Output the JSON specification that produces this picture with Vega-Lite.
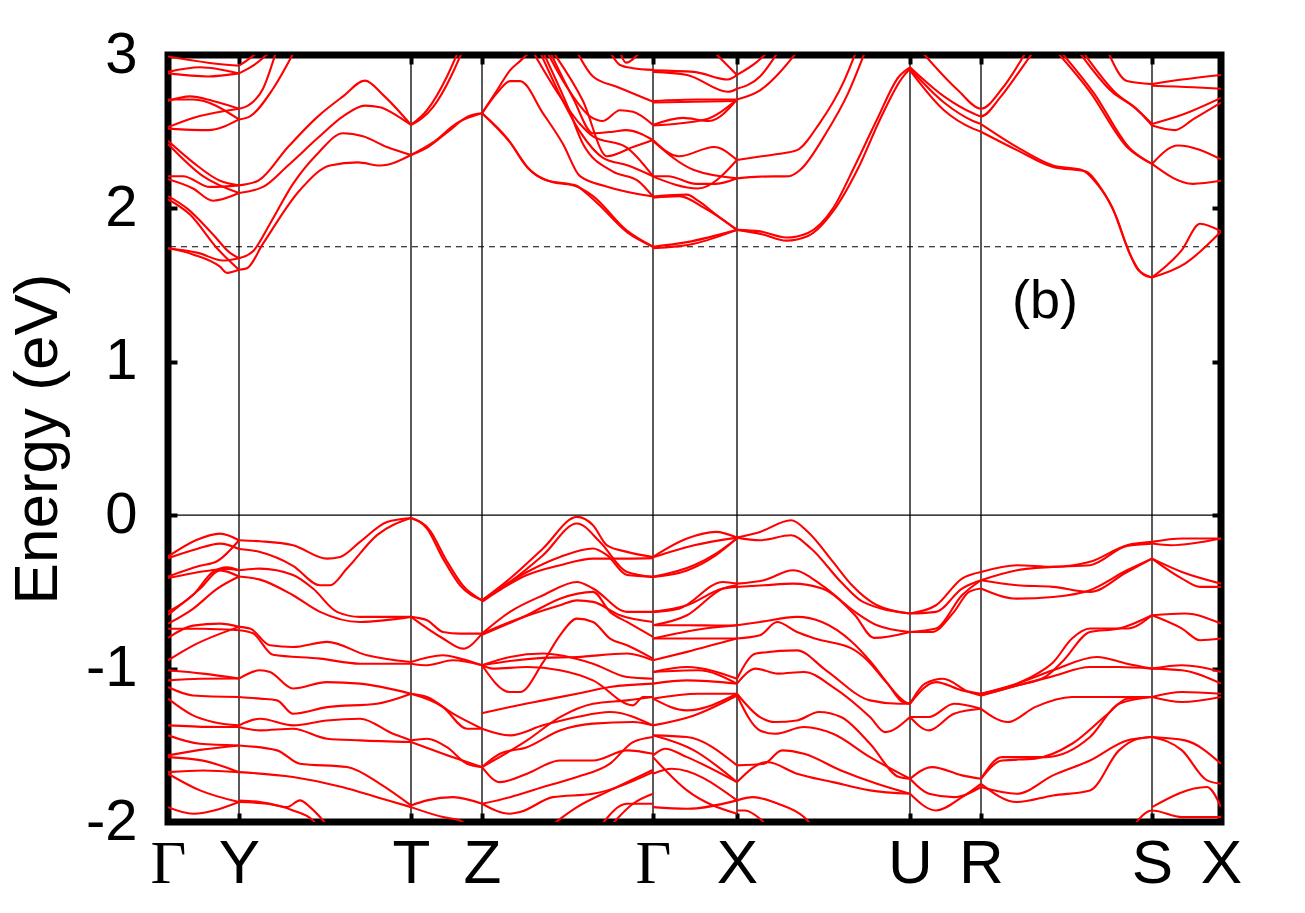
{
"$schema": "https://vega.github.io/schema/vega-lite/v6.json",
"width": 1053, "height": 767,
"autosize": {"type": "none"},
"padding": {"left": 168, "top": 55, "right": 84, "bottom": 91},
"background": "white",
"config": {"view": {"stroke": "black", "strokeWidth": 7}, "axis": {"domain": false}},
"datasets": {
"hs": [{"k":0},{"k":71},{"k":243},{"k":314},{"k":485},{"k":569},{"k":742},{"k":813},{"k":984},{"k":1053}],
"bands": [
{"b":"c1","k":0,"e":1.74},{"b":"c1","k":25,"e":1.70},{"b":"c1","k":52,"e":1.62},{"b":"c1","k":59,"e":1.58},{"b":"c1","k":71,"e":1.60},
{"b":"c2","k":0,"e":1.74},{"b":"c2","k":30,"e":1.71},{"b":"c2","k":55,"e":1.66},{"b":"c2","k":71,"e":1.675},
{"b":"c3","k":0,"e":2.08},{"b":"c3","k":19,"e":2.0},{"b":"c3","k":45,"e":1.83},{"b":"c3","k":62,"e":1.71},{"b":"c3","k":71,"e":1.675},
{"b":"c4","k":0,"e":2.06},{"b":"c4","k":22,"e":1.96},{"b":"c4","k":49,"e":1.74},{"b":"c4","k":71,"e":1.60},
{"b":"c5","k":0,"e":2.44},{"b":"c5","k":25,"e":2.30},{"b":"c5","k":52,"e":2.18},{"b":"c5","k":71,"e":2.15},
{"b":"c6","k":0,"e":2.42},{"b":"c6","k":35,"e":2.21},{"b":"c6","k":71,"e":2.10},
{"b":"c7","k":0,"e":2.21},{"b":"c7","k":15,"e":2.21},{"b":"c7","k":42,"e":2.14},{"b":"c7","k":71,"e":2.15},
{"b":"c8","k":0,"e":2.19},{"b":"c8","k":25,"e":2.13},{"b":"c8","k":45,"e":2.05},{"b":"c8","k":71,"e":2.10},
{"b":"c9","k":0,"e":2.70},{"b":"c9","k":22,"e":2.73},{"b":"c9","k":45,"e":2.70},{"b":"c9","k":71,"e":2.65},
{"b":"c10","k":0,"e":2.71},{"b":"c10","k":25,"e":2.71},{"b":"c10","k":71,"e":2.58},
{"b":"c11","k":0,"e":2.53},{"b":"c11","k":25,"e":2.59},{"b":"c11","k":71,"e":2.65},
{"b":"c12","k":0,"e":2.52},{"b":"c12","k":40,"e":2.51},{"b":"c12","k":71,"e":2.58},
{"b":"c13","k":0,"e":2.89},{"b":"c13","k":32,"e":2.92},{"b":"c13","k":71,"e":2.88},
{"b":"c14","k":0,"e":2.88},{"b":"c14","k":40,"e":2.86},{"b":"c14","k":71,"e":2.88},
{"b":"c15","k":0,"e":2.99},{"b":"c15","k":40,"e":2.95},{"b":"c15","k":71,"e":2.93},
{"b":"c16","k":71,"e":1.60},{"b":"c16","k":79,"e":1.61},{"b":"c16","k":95,"e":1.77},{"b":"c16","k":132,"e":2.12},{"b":"c16","k":162,"e":2.28},{"b":"c16","k":190,"e":2.30},{"b":"c16","k":212,"e":2.28},{"b":"c16","k":243,"e":2.348},
{"b":"c17","k":71,"e":1.675},{"b":"c17","k":85,"e":1.72},{"b":"c17","k":102,"e":1.90},{"b":"c17","k":125,"e":2.16},{"b":"c17","k":150,"e":2.36},{"b":"c17","k":175,"e":2.49},{"b":"c17","k":195,"e":2.47},{"b":"c17","k":219,"e":2.40},{"b":"c17","k":243,"e":2.348},
{"b":"c18","k":71,"e":2.10},{"b":"c18","k":95,"e":2.14},{"b":"c18","k":120,"e":2.28},{"b":"c18","k":150,"e":2.46},{"b":"c18","k":175,"e":2.60},{"b":"c18","k":197,"e":2.67},{"b":"c18","k":212,"e":2.66},{"b":"c18","k":230,"e":2.60},{"b":"c18","k":243,"e":2.544},
{"b":"c19","k":71,"e":2.15},{"b":"c19","k":90,"e":2.18},{"b":"c19","k":120,"e":2.40},{"b":"c19","k":150,"e":2.60},{"b":"c19","k":175,"e":2.73},{"b":"c19","k":197,"e":2.833},{"b":"c19","k":215,"e":2.74},{"b":"c19","k":243,"e":2.544},
{"b":"c20","k":71,"e":2.65},{"b":"c20","k":80,"e":2.67},{"b":"c20","k":95,"e":2.78},{"b":"c20","k":108,"e":3.02},
{"b":"c21","k":71,"e":2.58},{"b":"c21","k":82,"e":2.60},{"b":"c21","k":105,"e":2.78},{"b":"c21","k":126,"e":3.02},
{"b":"c22","k":71,"e":2.88},{"b":"c22","k":85,"e":2.93},{"b":"c22","k":102,"e":3.02},
{"b":"c23","k":71,"e":2.93},{"b":"c23","k":80,"e":2.97},{"b":"c23","k":90,"e":3.02},
{"b":"c24","k":243,"e":2.544},{"b":"c24","k":259,"e":2.64},{"b":"c24","k":279,"e":2.86},{"b":"c24","k":290,"e":3.02},
{"b":"c25","k":243,"e":2.544},{"b":"c25","k":265,"e":2.66},{"b":"c25","k":283,"e":2.86},{"b":"c25","k":294,"e":3.02},
{"b":"c26","k":243,"e":2.348},{"b":"c26","k":260,"e":2.40},{"b":"c26","k":280,"e":2.50},{"b":"c26","k":300,"e":2.60},{"b":"c26","k":314,"e":2.62},
{"b":"c27","k":243,"e":2.348},{"b":"c27","k":265,"e":2.43},{"b":"c27","k":290,"e":2.56},{"b":"c27","k":314,"e":2.62},
{"b":"c28","k":314,"e":2.62},{"b":"c28","k":330,"e":2.78},{"b":"c28","k":342,"e":2.90},{"b":"c28","k":352,"e":2.96},{"b":"c28","k":362,"e":3.02},
{"b":"c29","k":314,"e":2.62},{"b":"c29","k":330,"e":2.76},{"b":"c29","k":342,"e":2.83},{"b":"c29","k":352,"e":2.83},{"b":"c29","k":375,"e":2.62},{"b":"c29","k":395,"e":2.42},{"b":"c29","k":412,"e":2.21},{"b":"c29","k":440,"e":2.14},{"b":"c29","k":485,"e":2.077},
{"b":"c30","k":314,"e":2.62},{"b":"c30","k":340,"e":2.45},{"b":"c30","k":359,"e":2.27},{"b":"c30","k":380,"e":2.18},{"b":"c30","k":400,"e":2.16},{"b":"c30","k":413,"e":2.13},{"b":"c30","k":425,"e":2.08},{"b":"c30","k":458,"e":1.86},{"b":"c30","k":485,"e":1.75},
{"b":"c31","k":314,"e":2.62},{"b":"c31","k":342,"e":2.43},{"b":"c31","k":362,"e":2.25},{"b":"c31","k":385,"e":2.17},{"b":"c31","k":408,"e":2.15},{"b":"c31","k":418,"e":2.10},{"b":"c31","k":430,"e":2.03},{"b":"c31","k":460,"e":1.84},{"b":"c31","k":485,"e":1.75},
{"b":"c32","k":365,"e":3.02},{"b":"c32","k":390,"e":2.75},{"b":"c32","k":412,"e":2.55},{"b":"c32","k":425,"e":2.47},{"b":"c32","k":458,"e":2.40},{"b":"c32","k":485,"e":2.21},
{"b":"c33","k":372,"e":3.02},{"b":"c33","k":395,"e":2.70},{"b":"c33","k":412,"e":2.50},{"b":"c33","k":435,"e":2.33},{"b":"c33","k":460,"e":2.28},{"b":"c33","k":485,"e":2.21},
{"b":"c34","k":375,"e":3.02},{"b":"c34","k":400,"e":2.66},{"b":"c34","k":415,"e":2.42},{"b":"c34","k":445,"e":2.24},{"b":"c34","k":470,"e":2.18},{"b":"c34","k":485,"e":2.077},
{"b":"c35","k":379,"e":3.02},{"b":"c35","k":400,"e":2.78},{"b":"c35","k":422,"e":2.60},{"b":"c35","k":435,"e":2.57},{"b":"c35","k":452,"e":2.64},{"b":"c35","k":465,"e":2.63},{"b":"c35","k":485,"e":2.544},
{"b":"c36","k":382,"e":3.02},{"b":"c36","k":405,"e":2.72},{"b":"c36","k":425,"e":2.49},{"b":"c36","k":445,"e":2.50},{"b":"c36","k":458,"e":2.51},{"b":"c36","k":485,"e":2.446},
{"b":"c37","k":385,"e":3.02},{"b":"c37","k":415,"e":2.70},{"b":"c37","k":439,"e":2.34},{"b":"c37","k":465,"e":2.40},{"b":"c37","k":485,"e":2.446},
{"b":"c38","k":409,"e":3.02},{"b":"c38","k":425,"e":2.86},{"b":"c38","k":450,"e":2.79},{"b":"c38","k":485,"e":2.696},
{"b":"c39","k":442,"e":3.02},{"b":"c39","k":452,"e":2.935},{"b":"c39","k":465,"e":2.914},{"b":"c39","k":485,"e":2.903},
{"b":"c40","k":452,"e":3.02},{"b":"c40","k":458,"e":2.95},{"b":"c40","k":472,"e":3.02},
{"b":"c41","k":485,"e":1.75},{"b":"c41","k":519,"e":1.78},{"b":"c41","k":569,"e":1.86},
{"b":"c42","k":485,"e":1.74},{"b":"c42","k":526,"e":1.77},{"b":"c42","k":569,"e":1.86},
{"b":"c43","k":485,"e":2.077},{"b":"c43","k":519,"e":2.09},{"b":"c43","k":530,"e":2.05},{"b":"c43","k":548,"e":1.96},{"b":"c43","k":569,"e":1.86},
{"b":"c44","k":485,"e":2.07},{"b":"c44","k":511,"e":2.08},{"b":"c44","k":537,"e":2.00},{"b":"c44","k":569,"e":1.86},
{"b":"c45","k":485,"e":2.21},{"b":"c45","k":500,"e":2.21},{"b":"c45","k":528,"e":2.16},{"b":"c45","k":548,"e":2.16},{"b":"c45","k":569,"e":2.196},
{"b":"c46","k":485,"e":2.446},{"b":"c46","k":511,"e":2.34},{"b":"c46","k":546,"e":2.40},{"b":"c46","k":569,"e":2.316},
{"b":"c47","k":485,"e":2.44},{"b":"c47","k":526,"e":2.25},{"b":"c47","k":569,"e":2.196},
{"b":"c48","k":485,"e":2.207},{"b":"c48","k":530,"e":2.13},{"b":"c48","k":569,"e":2.316},
{"b":"c49","k":485,"e":2.544},{"b":"c49","k":515,"e":2.59},{"b":"c49","k":541,"e":2.57},{"b":"c49","k":569,"e":2.71},
{"b":"c50","k":485,"e":2.54},{"b":"c50","k":537,"e":2.58},{"b":"c50","k":569,"e":2.71},
{"b":"c51","k":485,"e":2.70},{"b":"c51","k":530,"e":2.71},{"b":"c51","k":569,"e":2.71},
{"b":"c52","k":485,"e":2.69},{"b":"c52","k":569,"e":2.70},
{"b":"c53","k":485,"e":2.89},{"b":"c53","k":519,"e":2.87},{"b":"c53","k":560,"e":2.76},{"b":"c53","k":569,"e":2.78},
{"b":"c54","k":485,"e":2.90},{"b":"c54","k":526,"e":2.89},{"b":"c54","k":560,"e":2.84},{"b":"c54","k":569,"e":2.87},
{"b":"c55","k":546,"e":3.02},{"b":"c55","k":569,"e":2.87},
{"b":"c56","k":569,"e":1.86},{"b":"c56","k":592,"e":1.85},{"b":"c56","k":618,"e":1.81},{"b":"c56","k":640,"e":1.84},{"b":"c56","k":665,"e":2.0},{"b":"c56","k":687,"e":2.28},{"b":"c56","k":709,"e":2.58},{"b":"c56","k":731,"e":2.86},{"b":"c56","k":742,"e":2.92},
{"b":"c57","k":569,"e":1.86},{"b":"c57","k":595,"e":1.83},{"b":"c57","k":618,"e":1.79},{"b":"c57","k":640,"e":1.82},{"b":"c57","k":665,"e":1.98},{"b":"c57","k":690,"e":2.26},{"b":"c57","k":712,"e":2.58},{"b":"c57","k":734,"e":2.85},{"b":"c57","k":742,"e":2.91},
{"b":"c58","k":569,"e":2.196},{"b":"c58","k":592,"e":2.207},{"b":"c58","k":621,"e":2.21},{"b":"c58","k":632,"e":2.25},{"b":"c58","k":658,"e":2.49},{"b":"c58","k":680,"e":2.75},{"b":"c58","k":697,"e":3.02},
{"b":"c59","k":569,"e":2.316},{"b":"c59","k":592,"e":2.338},{"b":"c59","k":610,"e":2.355},{"b":"c59","k":629,"e":2.38},{"b":"c59","k":651,"e":2.55},{"b":"c59","k":676,"e":2.83},{"b":"c59","k":688,"e":3.02},
{"b":"c60","k":569,"e":2.71},{"b":"c60","k":592,"e":2.77},{"b":"c60","k":629,"e":3.02},
{"b":"c61","k":569,"e":2.78},{"b":"c61","k":592,"e":2.86},{"b":"c61","k":610,"e":3.02},
{"b":"c62","k":569,"e":2.87},{"b":"c62","k":588,"e":2.95},{"b":"c62","k":600,"e":3.02},
{"b":"c63","k":742,"e":2.92},{"b":"c63","k":776,"e":2.73},{"b":"c63","k":805,"e":2.62},{"b":"c63","k":813,"e":2.60},{"b":"c63","k":833,"e":2.73},{"b":"c63","k":850,"e":2.88},{"b":"c63","k":865,"e":3.02},
{"b":"c64","k":742,"e":2.91},{"b":"c64","k":776,"e":2.69},{"b":"c64","k":805,"e":2.57},{"b":"c64","k":813,"e":2.55},
{"b":"c65","k":742,"e":2.90},{"b":"c65","k":776,"e":2.64},{"b":"c65","k":805,"e":2.52},{"b":"c65","k":813,"e":2.50},
{"b":"c66","k":754,"e":3.02},{"b":"c66","k":790,"e":2.77},{"b":"c66","k":813,"e":2.65},{"b":"c66","k":834,"e":2.78},{"b":"c66","k":858,"e":3.02},
{"b":"c67","k":813,"e":2.55},{"b":"c67","k":849,"e":2.40},{"b":"c67","k":885,"e":2.28},{"b":"c67","k":914,"e":2.25},{"b":"c67","k":929,"e":2.16},{"b":"c67","k":944,"e":2.01},{"b":"c67","k":959,"e":1.75},{"b":"c67","k":970,"e":1.60},{"b":"c67","k":984,"e":1.55},
{"b":"c68","k":813,"e":2.50},{"b":"c68","k":849,"e":2.38},{"b":"c68","k":885,"e":2.27},{"b":"c68","k":918,"e":2.24},{"b":"c68","k":932,"e":2.14},{"b":"c68","k":948,"e":1.95},{"b":"c68","k":962,"e":1.70},{"b":"c68","k":975,"e":1.57},{"b":"c68","k":984,"e":1.55},
{"b":"c69","k":889,"e":3.02},{"b":"c69","k":922,"e":2.76},{"b":"c69","k":959,"e":2.40},{"b":"c69","k":984,"e":2.29},
{"b":"c70","k":893,"e":3.02},{"b":"c70","k":926,"e":2.75},{"b":"c70","k":962,"e":2.39},{"b":"c70","k":984,"e":2.29},
{"b":"c71","k":911,"e":3.02},{"b":"c71","k":944,"e":2.76},{"b":"c71","k":966,"e":2.66},{"b":"c71","k":984,"e":2.55},
{"b":"c72","k":915,"e":3.02},{"b":"c72","k":948,"e":2.75},{"b":"c72","k":970,"e":2.64},{"b":"c72","k":984,"e":2.54},
{"b":"c73","k":940,"e":3.02},{"b":"c73","k":959,"e":2.83},{"b":"c73","k":984,"e":2.81},
{"b":"c74","k":984,"e":2.81},{"b":"c74","k":1014,"e":2.84},{"b":"c74","k":1053,"e":2.87},
{"b":"c75","k":984,"e":2.80},{"b":"c75","k":1025,"e":2.79},{"b":"c75","k":1053,"e":2.78},
{"b":"c76","k":984,"e":2.55},{"b":"c76","k":1014,"e":2.61},{"b":"c76","k":1053,"e":2.72},
{"b":"c77","k":984,"e":2.54},{"b":"c77","k":1007,"e":2.51},{"b":"c77","k":1025,"e":2.58},{"b":"c77","k":1053,"e":2.69},
{"b":"c78","k":984,"e":2.29},{"b":"c78","k":1010,"e":2.41},{"b":"c78","k":1053,"e":2.32},
{"b":"c79","k":984,"e":2.29},{"b":"c79","k":1025,"e":2.16},{"b":"c79","k":1053,"e":2.18},
{"b":"c80","k":984,"e":1.55},{"b":"c80","k":1014,"e":1.73},{"b":"c80","k":1032,"e":1.90},{"b":"c80","k":1053,"e":1.85},
{"b":"c81","k":984,"e":1.55},{"b":"c81","k":1017,"e":1.64},{"b":"c81","k":1053,"e":1.85},
{"b":"v1","k":0,"e":-0.27},{"b":"v1","k":29,"e":-0.16},{"b":"v1","k":52,"e":-0.12},{"b":"v1","k":71,"e":-0.163},
{"b":"v2","k":0,"e":-0.28},{"b":"v2","k":29,"e":-0.22},{"b":"v2","k":52,"e":-0.185},{"b":"v2","k":71,"e":-0.22},
{"b":"v3","k":0,"e":-0.40},{"b":"v3","k":32,"e":-0.33},{"b":"v3","k":49,"e":-0.30},{"b":"v3","k":71,"e":-0.163},
{"b":"v4","k":0,"e":-0.41},{"b":"v4","k":42,"e":-0.36},{"b":"v4","k":59,"e":-0.35},{"b":"v4","k":71,"e":-0.359},
{"b":"v5","k":0,"e":-0.63},{"b":"v5","k":25,"e":-0.52},{"b":"v5","k":45,"e":-0.37},{"b":"v5","k":59,"e":-0.34},{"b":"v5","k":71,"e":-0.359},
{"b":"v6","k":0,"e":-0.65},{"b":"v6","k":32,"e":-0.48},{"b":"v6","k":52,"e":-0.36},{"b":"v6","k":71,"e":-0.40},
{"b":"v7","k":0,"e":-0.707},{"b":"v7","k":25,"e":-0.61},{"b":"v7","k":49,"e":-0.48},{"b":"v7","k":71,"e":-0.40},
{"b":"v8","k":0,"e":-0.80},{"b":"v8","k":25,"e":-0.72},{"b":"v8","k":52,"e":-0.707},{"b":"v8","k":71,"e":-0.728},
{"b":"v9","k":0,"e":-0.74},{"b":"v9","k":35,"e":-0.74},{"b":"v9","k":71,"e":-0.75},
{"b":"v10","k":0,"e":-0.946},{"b":"v10","k":25,"e":-0.85},{"b":"v10","k":71,"e":-0.728},
{"b":"v11","k":0,"e":-1.011},{"b":"v11","k":35,"e":-1.033},{"b":"v11","k":71,"e":-1.065},
{"b":"v12","k":0,"e":-1.077},{"b":"v12","k":32,"e":-1.066},{"b":"v12","k":71,"e":-1.065},
{"b":"v13","k":0,"e":-1.12},{"b":"v13","k":25,"e":-1.175},{"b":"v13","k":71,"e":-1.185},
{"b":"v14","k":0,"e":-1.196},{"b":"v14","k":25,"e":-1.305},{"b":"v14","k":45,"e":-1.348},{"b":"v14","k":71,"e":-1.37},
{"b":"v15","k":0,"e":-1.37},{"b":"v15","k":42,"e":-1.38},{"b":"v15","k":71,"e":-1.381},
{"b":"v16","k":0,"e":-1.435},{"b":"v16","k":32,"e":-1.49},{"b":"v16","k":71,"e":-1.501},
{"b":"v17","k":0,"e":-1.566},{"b":"v17","k":32,"e":-1.53},{"b":"v17","k":71,"e":-1.501},
{"b":"v18","k":0,"e":-1.577},{"b":"v18","k":35,"e":-1.60},{"b":"v18","k":71,"e":-1.675},
{"b":"v19","k":0,"e":-1.675},{"b":"v19","k":35,"e":-1.664},{"b":"v19","k":71,"e":-1.675},
{"b":"v20","k":0,"e":-1.685},{"b":"v20","k":32,"e":-1.794},{"b":"v20","k":71,"e":-1.87},
{"b":"v21","k":0,"e":-1.903},{"b":"v21","k":25,"e":-1.946},{"b":"v21","k":71,"e":-1.87},
{"b":"v23","k":71,"e":-0.163},{"b":"v23","k":92,"e":-0.17},{"b":"v23","k":125,"e":-0.196},{"b":"v23","k":159,"e":-0.283},{"b":"v23","k":172,"e":-0.272},{"b":"v23","k":192,"e":-0.174},{"b":"v23","k":219,"e":-0.044},{"b":"v23","k":243,"e":-0.018},
{"b":"v24","k":71,"e":-0.22},{"b":"v24","k":92,"e":-0.24},{"b":"v24","k":125,"e":-0.33},{"b":"v24","k":152,"e":-0.457},{"b":"v24","k":162,"e":-0.457},{"b":"v24","k":179,"e":-0.348},{"b":"v24","k":209,"e":-0.13},{"b":"v24","k":243,"e":-0.018},
{"b":"v25","k":71,"e":-0.359},{"b":"v25","k":92,"e":-0.348},{"b":"v25","k":125,"e":-0.39},{"b":"v25","k":145,"e":-0.478},{"b":"v25","k":169,"e":-0.63},{"b":"v25","k":192,"e":-0.663},{"b":"v25","k":243,"e":-0.663},
{"b":"v26","k":71,"e":-0.40},{"b":"v26","k":92,"e":-0.42},{"b":"v26","k":125,"e":-0.522},{"b":"v26","k":152,"e":-0.63},{"b":"v26","k":192,"e":-0.696},{"b":"v26","k":243,"e":-0.663},
{"b":"v27","k":71,"e":-0.728},{"b":"v27","k":82,"e":-0.739},{"b":"v27","k":102,"e":-0.848},{"b":"v27","k":125,"e":-0.859},{"b":"v27","k":159,"e":-0.826},{"b":"v27","k":199,"e":-0.913},{"b":"v27","k":243,"e":-0.957},
{"b":"v28","k":71,"e":-0.75},{"b":"v28","k":85,"e":-0.77},{"b":"v28","k":105,"e":-0.91},{"b":"v28","k":152,"e":-0.935},{"b":"v28","k":192,"e":-0.968},{"b":"v28","k":243,"e":-0.968},
{"b":"v29","k":71,"e":-1.065},{"b":"v29","k":92,"e":-1.011},{"b":"v29","k":102,"e":-1.022},{"b":"v29","k":125,"e":-1.13},{"b":"v29","k":159,"e":-1.088},{"b":"v29","k":192,"e":-1.098},{"b":"v29","k":243,"e":-1.164},
{"b":"v30","k":71,"e":-1.185},{"b":"v30","k":92,"e":-1.196},{"b":"v30","k":109,"e":-1.207},{"b":"v30","k":125,"e":-1.294},{"b":"v30","k":159,"e":-1.251},{"b":"v30","k":209,"e":-1.229},{"b":"v30","k":243,"e":-1.164},
{"b":"v31","k":71,"e":-1.37},{"b":"v31","k":92,"e":-1.327},{"b":"v31","k":125,"e":-1.37},{"b":"v31","k":159,"e":-1.338},{"b":"v31","k":192,"e":-1.327},{"b":"v31","k":225,"e":-1.425},{"b":"v31","k":243,"e":-1.468},
{"b":"v32","k":71,"e":-1.381},{"b":"v32","k":92,"e":-1.403},{"b":"v32","k":125,"e":-1.392},{"b":"v32","k":159,"e":-1.457},{"b":"v32","k":192,"e":-1.468},{"b":"v32","k":243,"e":-1.479},
{"b":"v33","k":71,"e":-1.501},{"b":"v33","k":109,"e":-1.533},{"b":"v33","k":132,"e":-1.62},{"b":"v33","k":179,"e":-1.642},{"b":"v33","k":212,"e":-1.751},{"b":"v33","k":243,"e":-1.892},
{"b":"v34","k":71,"e":-1.675},{"b":"v34","k":125,"e":-1.707},{"b":"v34","k":175,"e":-1.773},{"b":"v34","k":209,"e":-1.838},{"b":"v34","k":243,"e":-1.903},
{"b":"v35","k":71,"e":-1.87},{"b":"v35","k":99,"e":-1.881},{"b":"v35","k":119,"e":-1.903},{"b":"v35","k":132,"e":-1.859},{"b":"v35","k":142,"e":-1.903},{"b":"v35","k":155,"e":-1.99},{"b":"v35","k":160,"e":-2.03},
{"b":"v36","k":71,"e":-1.86},{"b":"v36","k":92,"e":-1.87},{"b":"v36","k":125,"e":-1.925},{"b":"v36","k":145,"e":-1.99},{"b":"v36","k":150,"e":-2.03},
{"b":"v37","k":243,"e":-0.018},{"b":"v37","k":259,"e":-0.087},{"b":"v37","k":275,"e":-0.283},{"b":"v37","k":292,"e":-0.457},{"b":"v37","k":314,"e":-0.555},
{"b":"v38","k":243,"e":-0.018},{"b":"v38","k":262,"e":-0.10},{"b":"v38","k":278,"e":-0.29},{"b":"v38","k":295,"e":-0.46},{"b":"v38","k":314,"e":-0.555},
{"b":"v39","k":243,"e":-0.663},{"b":"v39","k":259,"e":-0.685},{"b":"v39","k":275,"e":-0.761},{"b":"v39","k":292,"e":-0.772},{"b":"v39","k":314,"e":-0.772},
{"b":"v40","k":243,"e":-0.663},{"b":"v40","k":275,"e":-0.804},{"b":"v40","k":295,"e":-0.87},{"b":"v40","k":314,"e":-0.772},
{"b":"v41","k":243,"e":-0.957},{"b":"v41","k":275,"e":-0.913},{"b":"v41","k":292,"e":-0.935},{"b":"v41","k":314,"e":-0.978},
{"b":"v42","k":243,"e":-0.968},{"b":"v42","k":259,"e":-0.978},{"b":"v42","k":285,"e":-0.946},{"b":"v42","k":314,"e":-0.978},
{"b":"v43","k":243,"e":-1.164},{"b":"v43","k":259,"e":-1.185},{"b":"v43","k":285,"e":-1.294},{"b":"v43","k":314,"e":-1.392},
{"b":"v44","k":243,"e":-1.164},{"b":"v44","k":275,"e":-1.251},{"b":"v44","k":299,"e":-1.392},{"b":"v44","k":314,"e":-1.392},
{"b":"v45","k":243,"e":-1.468},{"b":"v45","k":259,"e":-1.457},{"b":"v45","k":279,"e":-1.512},{"b":"v45","k":299,"e":-1.62},{"b":"v45","k":314,"e":-1.642},
{"b":"v46","k":243,"e":-1.479},{"b":"v46","k":275,"e":-1.555},{"b":"v46","k":314,"e":-1.642},
{"b":"v47","k":243,"e":-1.892},{"b":"v47","k":259,"e":-1.859},{"b":"v47","k":285,"e":-1.838},{"b":"v47","k":314,"e":-1.881},
{"b":"v48","k":243,"e":-1.903},{"b":"v48","k":275,"e":-1.968},{"b":"v48","k":292,"e":-1.99},{"b":"v48","k":300,"e":-2.03},
{"b":"v49","k":314,"e":-0.555},{"b":"v49","k":342,"e":-0.413},{"b":"v49","k":375,"e":-0.217},{"b":"v49","k":409,"e":-0.011},{"b":"v49","k":425,"e":-0.065},{"b":"v49","k":439,"e":-0.196},{"b":"v49","k":459,"e":-0.239},{"b":"v49","k":485,"e":-0.272},
{"b":"v50","k":314,"e":-0.555},{"b":"v50","k":342,"e":-0.435},{"b":"v50","k":375,"e":-0.261},{"b":"v50","k":409,"e":-0.054},{"b":"v50","k":432,"e":-0.174},{"b":"v50","k":459,"e":-0.37},{"b":"v50","k":485,"e":-0.402},
{"b":"v51","k":314,"e":-0.555},{"b":"v51","k":359,"e":-0.37},{"b":"v51","k":392,"e":-0.272},{"b":"v51","k":425,"e":-0.217},{"b":"v51","k":439,"e":-0.261},{"b":"v51","k":459,"e":-0.39},{"b":"v51","k":485,"e":-0.402},
{"b":"v52","k":314,"e":-0.565},{"b":"v52","k":359,"e":-0.39},{"b":"v52","k":392,"e":-0.326},{"b":"v52","k":425,"e":-0.283},{"b":"v52","k":459,"e":-0.283},{"b":"v52","k":485,"e":-0.28},
{"b":"v53","k":314,"e":-0.772},{"b":"v53","k":342,"e":-0.63},{"b":"v53","k":375,"e":-0.522},{"b":"v53","k":409,"e":-0.435},{"b":"v53","k":425,"e":-0.478},{"b":"v53","k":459,"e":-0.63},{"b":"v53","k":485,"e":-0.63},
{"b":"v54","k":314,"e":-0.772},{"b":"v54","k":342,"e":-0.696},{"b":"v54","k":392,"e":-0.587},{"b":"v54","k":409,"e":-0.555},{"b":"v54","k":425,"e":-0.565},{"b":"v54","k":452,"e":-0.652},{"b":"v54","k":485,"e":-0.696},
{"b":"v55","k":314,"e":-0.78},{"b":"v55","k":359,"e":-0.652},{"b":"v55","k":392,"e":-0.544},{"b":"v55","k":425,"e":-0.50},{"b":"v55","k":442,"e":-0.63},{"b":"v55","k":459,"e":-0.696},{"b":"v55","k":485,"e":-0.793},
{"b":"v56","k":314,"e":-0.978},{"b":"v56","k":342,"e":-1.153},{"b":"v56","k":352,"e":-1.153},{"b":"v56","k":375,"e":-0.96},{"b":"v56","k":392,"e":-0.783},{"b":"v56","k":409,"e":-0.674},{"b":"v56","k":425,"e":-0.696},{"b":"v56","k":442,"e":-0.804},{"b":"v56","k":459,"e":-0.848},{"b":"v56","k":485,"e":-0.935},
{"b":"v57","k":314,"e":-0.978},{"b":"v57","k":342,"e":-0.95},{"b":"v57","k":375,"e":-0.93},{"b":"v57","k":409,"e":-0.924},{"b":"v57","k":459,"e":-0.902},{"b":"v57","k":485,"e":-0.946},
{"b":"v58","k":314,"e":-0.978},{"b":"v58","k":342,"e":-0.924},{"b":"v58","k":375,"e":-0.902},{"b":"v58","k":425,"e":-0.968},{"b":"v58","k":459,"e":-1.055},{"b":"v58","k":485,"e":-1.066},
{"b":"v59","k":314,"e":-0.978},{"b":"v59","k":325,"e":-1.0},{"b":"v59","k":359,"e":-0.99},{"b":"v59","k":392,"e":-1.011},{"b":"v59","k":425,"e":-1.077},{"b":"v59","k":465,"e":-1.24},{"b":"v59","k":475,"e":-1.185},{"b":"v59","k":485,"e":-1.185},
{"b":"v60","k":314,"e":-1.392},{"b":"v60","k":342,"e":-1.435},{"b":"v60","k":375,"e":-1.37},{"b":"v60","k":409,"e":-1.316},{"b":"v60","k":442,"e":-1.283},{"b":"v60","k":485,"e":-1.37},
{"b":"v61","k":314,"e":-1.642},{"b":"v61","k":332,"e":-1.555},{"b":"v61","k":359,"e":-1.512},{"b":"v61","k":392,"e":-1.403},{"b":"v61","k":425,"e":-1.359},{"b":"v61","k":465,"e":-1.348},{"b":"v61","k":485,"e":-1.37},
{"b":"v62","k":314,"e":-1.642},{"b":"v62","k":359,"e":-1.468},{"b":"v62","k":392,"e":-1.316},{"b":"v62","k":425,"e":-1.229},{"b":"v62","k":459,"e":-1.207},{"b":"v62","k":485,"e":-1.185},
{"b":"v63","k":314,"e":-1.642},{"b":"v63","k":332,"e":-1.74},{"b":"v63","k":359,"e":-1.685},{"b":"v63","k":392,"e":-1.599},{"b":"v63","k":425,"e":-1.599},{"b":"v63","k":459,"e":-1.533},{"b":"v63","k":485,"e":-1.555},
{"b":"v64","k":314,"e":-1.881},{"b":"v64","k":342,"e":-1.838},{"b":"v64","k":375,"e":-1.772},{"b":"v64","k":409,"e":-1.707},{"b":"v64","k":442,"e":-1.62},{"b":"v64","k":465,"e":-1.479},{"b":"v64","k":485,"e":-1.446},
{"b":"v65","k":314,"e":-1.881},{"b":"v65","k":342,"e":-1.946},{"b":"v65","k":352,"e":-1.935},{"b":"v65","k":385,"e":-1.838},{"b":"v65","k":425,"e":-1.816},{"b":"v65","k":485,"e":-1.675},
{"b":"v66","k":382,"e":-2.03},{"b":"v66","k":409,"e":-1.903},{"b":"v66","k":442,"e":-1.794},{"b":"v66","k":485,"e":-1.66},
{"b":"v67","k":432,"e":-2.03},{"b":"v67","k":459,"e":-1.881},{"b":"v67","k":485,"e":-1.881},
{"b":"v68","k":442,"e":-2.03},{"b":"v68","k":465,"e":-1.881},{"b":"v68","k":485,"e":-1.816},
{"b":"v69","k":314,"e":-1.29},{"b":"v69","k":342,"e":-1.25},{"b":"v69","k":375,"e":-1.207},{"b":"v69","k":409,"e":-1.164},{"b":"v69","k":442,"e":-1.12},{"b":"v69","k":485,"e":-1.098},
{"b":"v70","k":485,"e":-0.272},{"b":"v70","k":519,"e":-0.152},{"b":"v70","k":548,"e":-0.109},{"b":"v70","k":569,"e":-0.146},
{"b":"v71","k":485,"e":-0.275},{"b":"v71","k":526,"e":-0.196},{"b":"v71","k":569,"e":-0.146},
{"b":"v72","k":485,"e":-0.402},{"b":"v72","k":526,"e":-0.326},{"b":"v72","k":548,"e":-0.25},{"b":"v72","k":569,"e":-0.15},
{"b":"v73","k":485,"e":-0.402},{"b":"v73","k":519,"e":-0.36},{"b":"v73","k":548,"e":-0.26},{"b":"v73","k":569,"e":-0.15},
{"b":"v74","k":485,"e":-0.63},{"b":"v74","k":511,"e":-0.609},{"b":"v74","k":555,"e":-0.435},{"b":"v74","k":569,"e":-0.446},
{"b":"v75","k":485,"e":-0.63},{"b":"v75","k":519,"e":-0.587},{"b":"v75","k":555,"e":-0.478},{"b":"v75","k":569,"e":-0.467},
{"b":"v76","k":485,"e":-0.717},{"b":"v76","k":519,"e":-0.652},{"b":"v76","k":555,"e":-0.478},{"b":"v76","k":569,"e":-0.457},
{"b":"v77","k":485,"e":-0.717},{"b":"v77","k":519,"e":-0.717},{"b":"v77","k":555,"e":-0.72},{"b":"v77","k":569,"e":-0.717},
{"b":"v78","k":485,"e":-0.804},{"b":"v78","k":519,"e":-0.804},{"b":"v78","k":569,"e":-0.804},
{"b":"v79","k":485,"e":-0.804},{"b":"v79","k":537,"e":-0.739},{"b":"v79","k":569,"e":-0.717},
{"b":"v80","k":485,"e":-0.946},{"b":"v80","k":519,"e":-0.891},{"b":"v80","k":569,"e":-0.804},
{"b":"v82","k":485,"e":-1.022},{"b":"v82","k":519,"e":-0.99},{"b":"v82","k":569,"e":-1.066},
{"b":"v83","k":485,"e":-1.022},{"b":"v83","k":530,"e":-1.011},{"b":"v83","k":569,"e":-1.098},
{"b":"v84","k":485,"e":-1.098},{"b":"v84","k":519,"e":-1.077},{"b":"v84","k":569,"e":-1.098},
{"b":"v85","k":485,"e":-1.196},{"b":"v85","k":519,"e":-1.272},{"b":"v85","k":569,"e":-1.164},
{"b":"v86","k":485,"e":-1.196},{"b":"v86","k":530,"e":-1.164},{"b":"v86","k":569,"e":-1.164},
{"b":"v87","k":485,"e":-1.37},{"b":"v87","k":526,"e":-1.305},{"b":"v87","k":569,"e":-1.175},
{"b":"v88","k":485,"e":-1.435},{"b":"v88","k":519,"e":-1.446},{"b":"v88","k":569,"e":-1.631},
{"b":"v89","k":485,"e":-1.435},{"b":"v89","k":526,"e":-1.533},{"b":"v89","k":569,"e":-1.74},
{"b":"v90","k":485,"e":-1.566},{"b":"v90","k":497,"e":-1.522},{"b":"v90","k":519,"e":-1.577},{"b":"v90","k":569,"e":-1.74},
{"b":"v91","k":485,"e":-1.685},{"b":"v91","k":504,"e":-1.653},{"b":"v91","k":569,"e":-1.859},
{"b":"v92","k":485,"e":-1.903},{"b":"v92","k":519,"e":-1.914},{"b":"v92","k":569,"e":-1.859},
{"b":"v93","k":485,"e":-1.577},{"b":"v93","k":519,"e":-1.794},{"b":"v93","k":569,"e":-1.946},
{"b":"v94","k":569,"e":-0.146},{"b":"v94","k":592,"e":-0.109},{"b":"v94","k":623,"e":-0.033},{"b":"v94","k":640,"e":-0.109},{"b":"v94","k":665,"e":-0.304},{"b":"v94","k":684,"e":-0.457},{"b":"v94","k":709,"e":-0.587},{"b":"v94","k":742,"e":-0.641},
{"b":"v95","k":569,"e":-0.146},{"b":"v95","k":592,"e":-0.163},{"b":"v95","k":623,"e":-0.131},{"b":"v95","k":643,"e":-0.217},{"b":"v95","k":673,"e":-0.435},{"b":"v95","k":695,"e":-0.565},{"b":"v95","k":742,"e":-0.641},
{"b":"v96","k":569,"e":-0.446},{"b":"v96","k":596,"e":-0.424},{"b":"v96","k":625,"e":-0.359},{"b":"v96","k":654,"e":-0.457},{"b":"v96","k":687,"e":-0.63},{"b":"v96","k":709,"e":-0.717},{"b":"v96","k":742,"e":-0.761},
{"b":"v97","k":569,"e":-0.467},{"b":"v97","k":596,"e":-0.457},{"b":"v97","k":625,"e":-0.446},{"b":"v97","k":654,"e":-0.478},{"b":"v97","k":687,"e":-0.652},{"b":"v97","k":706,"e":-0.8},{"b":"v97","k":742,"e":-0.761},
{"b":"v98","k":569,"e":-0.717},{"b":"v98","k":592,"e":-0.696},{"b":"v98","k":629,"e":-0.663},{"b":"v98","k":654,"e":-0.696},{"b":"v98","k":684,"e":-0.826},{"b":"v98","k":702,"e":-0.95},{"b":"v98","k":720,"e":-1.10},{"b":"v98","k":735,"e":-1.22},{"b":"v98","k":742,"e":-1.229},
{"b":"v99","k":569,"e":-0.804},{"b":"v99","k":592,"e":-0.783},{"b":"v99","k":609,"e":-0.696},{"b":"v99","k":629,"e":-0.761},{"b":"v99","k":647,"e":-0.804},{"b":"v99","k":684,"e":-0.87},{"b":"v99","k":700,"e":-0.95},{"b":"v99","k":717,"e":-1.08},{"b":"v99","k":738,"e":-1.22},{"b":"v99","k":742,"e":-1.229},
{"b":"v101","k":569,"e":-1.066},{"b":"v101","k":588,"e":-0.902},{"b":"v101","k":629,"e":-0.881},{"b":"v101","k":658,"e":-1.011},{"b":"v101","k":702,"e":-1.207},{"b":"v101","k":731,"e":-1.229},{"b":"v101","k":742,"e":-1.229},
{"b":"v102","k":569,"e":-1.098},{"b":"v102","k":588,"e":-1.0},{"b":"v102","k":610,"e":-1.033},{"b":"v102","k":636,"e":-1.022},{"b":"v102","k":665,"e":-1.12},{"b":"v102","k":702,"e":-1.316},{"b":"v102","k":717,"e":-1.414},{"b":"v102","k":742,"e":-1.316},
{"b":"v103","k":569,"e":-1.164},{"b":"v103","k":592,"e":-1.316},{"b":"v103","k":607,"e":-1.348},{"b":"v103","k":629,"e":-1.338},{"b":"v103","k":651,"e":-1.283},{"b":"v103","k":673,"e":-1.316},{"b":"v103","k":702,"e":-1.49},{"b":"v103","k":731,"e":-1.707},{"b":"v103","k":742,"e":-1.718},
{"b":"v104","k":569,"e":-1.175},{"b":"v104","k":592,"e":-1.403},{"b":"v104","k":607,"e":-1.425},{"b":"v104","k":636,"e":-1.381},{"b":"v104","k":665,"e":-1.425},{"b":"v104","k":702,"e":-1.577},{"b":"v104","k":742,"e":-1.718},
{"b":"v105","k":569,"e":-1.631},{"b":"v105","k":596,"e":-1.62},{"b":"v105","k":614,"e":-1.533},{"b":"v105","k":636,"e":-1.555},{"b":"v105","k":673,"e":-1.664},{"b":"v105","k":709,"e":-1.751},{"b":"v105","k":742,"e":-1.816},
{"b":"v106","k":569,"e":-1.74},{"b":"v106","k":599,"e":-1.609},{"b":"v106","k":629,"e":-1.685},{"b":"v106","k":665,"e":-1.74},{"b":"v106","k":702,"e":-1.794},{"b":"v106","k":742,"e":-1.816},
{"b":"v107","k":569,"e":-1.859},{"b":"v107","k":585,"e":-1.838},{"b":"v107","k":610,"e":-1.881},{"b":"v107","k":636,"e":-1.968},{"b":"v107","k":645,"e":-2.03},
{"b":"v108","k":569,"e":-1.925},{"b":"v108","k":577,"e":-1.925},{"b":"v108","k":592,"e":-1.979},{"b":"v108","k":600,"e":-2.03},
{"b":"v109","k":742,"e":-0.641},{"b":"v109","k":768,"e":-0.587},{"b":"v109","k":794,"e":-0.413},{"b":"v109","k":813,"e":-0.37},
{"b":"v110","k":742,"e":-0.641},{"b":"v110","k":768,"e":-0.63},{"b":"v110","k":794,"e":-0.478},{"b":"v110","k":813,"e":-0.424},
{"b":"v111","k":742,"e":-0.761},{"b":"v111","k":764,"e":-0.761},{"b":"v111","k":786,"e":-0.63},{"b":"v111","k":801,"e":-0.5},{"b":"v111","k":813,"e":-0.478},
{"b":"v112","k":742,"e":-0.761},{"b":"v112","k":768,"e":-0.739},{"b":"v112","k":794,"e":-0.522},{"b":"v112","k":813,"e":-0.424},
{"b":"v113","k":742,"e":-1.229},{"b":"v113","k":757,"e":-1.098},{"b":"v113","k":775,"e":-1.066},{"b":"v113","k":801,"e":-1.153},{"b":"v113","k":813,"e":-1.175},
{"b":"v114","k":742,"e":-1.229},{"b":"v114","k":768,"e":-1.088},{"b":"v114","k":794,"e":-1.142},{"b":"v114","k":813,"e":-1.164},
{"b":"v115","k":742,"e":-1.316},{"b":"v115","k":761,"e":-1.403},{"b":"v115","k":786,"e":-1.294},{"b":"v115","k":813,"e":-1.262},
{"b":"v116","k":742,"e":-1.316},{"b":"v116","k":761,"e":-1.316},{"b":"v116","k":786,"e":-1.229},{"b":"v116","k":813,"e":-1.262},
{"b":"v117","k":742,"e":-1.718},{"b":"v117","k":764,"e":-1.642},{"b":"v117","k":794,"e":-1.696},{"b":"v117","k":813,"e":-1.718},
{"b":"v118","k":742,"e":-1.816},{"b":"v118","k":768,"e":-1.925},{"b":"v118","k":794,"e":-1.838},{"b":"v118","k":813,"e":-1.751},
{"b":"v119","k":742,"e":-1.718},{"b":"v119","k":761,"e":-1.816},{"b":"v119","k":786,"e":-1.838},{"b":"v119","k":813,"e":-1.772},
{"b":"v120","k":813,"e":-0.37},{"b":"v120","k":849,"e":-0.326},{"b":"v120","k":885,"e":-0.337},{"b":"v120","k":922,"e":-0.304},{"b":"v120","k":959,"e":-0.196},{"b":"v120","k":984,"e":-0.174},
{"b":"v121","k":813,"e":-0.424},{"b":"v121","k":849,"e":-0.359},{"b":"v121","k":885,"e":-0.337},{"b":"v121","k":922,"e":-0.326},{"b":"v121","k":959,"e":-0.2},{"b":"v121","k":984,"e":-0.185},
{"b":"v122","k":813,"e":-0.424},{"b":"v122","k":849,"e":-0.457},{"b":"v122","k":885,"e":-0.467},{"b":"v122","k":922,"e":-0.5},{"b":"v122","k":959,"e":-0.37},{"b":"v122","k":984,"e":-0.283},
{"b":"v123","k":813,"e":-0.478},{"b":"v123","k":849,"e":-0.544},{"b":"v123","k":885,"e":-0.533},{"b":"v123","k":922,"e":-0.489},{"b":"v123","k":959,"e":-0.359},{"b":"v123","k":984,"e":-0.283},
{"b":"v124","k":813,"e":-1.164},{"b":"v124","k":849,"e":-1.098},{"b":"v124","k":870,"e":-1.03},{"b":"v124","k":885,"e":-0.96},{"b":"v124","k":904,"e":-0.804},{"b":"v124","k":922,"e":-0.739},{"b":"v124","k":959,"e":-0.739},{"b":"v124","k":984,"e":-0.652},
{"b":"v125","k":813,"e":-1.175},{"b":"v125","k":849,"e":-1.11},{"b":"v125","k":878,"e":-1.05},{"b":"v125","k":895,"e":-0.95},{"b":"v125","k":922,"e":-0.761},{"b":"v125","k":951,"e":-0.739},{"b":"v125","k":984,"e":-0.652},
{"b":"v126","k":813,"e":-1.164},{"b":"v126","k":849,"e":-1.098},{"b":"v126","k":885,"e":-1.011},{"b":"v126","k":929,"e":-0.924},{"b":"v126","k":959,"e":-0.968},{"b":"v126","k":984,"e":-1.0},
{"b":"v127","k":813,"e":-1.175},{"b":"v127","k":849,"e":-1.11},{"b":"v127","k":885,"e":-1.05},{"b":"v127","k":922,"e":-0.99},{"b":"v127","k":951,"e":-0.99},{"b":"v127","k":984,"e":-1.0},
{"b":"v128","k":813,"e":-1.262},{"b":"v128","k":840,"e":-1.348},{"b":"v128","k":867,"e":-1.251},{"b":"v128","k":904,"e":-1.185},{"b":"v128","k":951,"e":-1.185},{"b":"v128","k":984,"e":-1.185},
{"b":"v129","k":813,"e":-1.718},{"b":"v129","k":834,"e":-1.599},{"b":"v129","k":867,"e":-1.587},{"b":"v129","k":904,"e":-1.49},{"b":"v129","k":940,"e":-1.294},{"b":"v129","k":959,"e":-1.196},{"b":"v129","k":984,"e":-1.185},
{"b":"v130","k":813,"e":-1.718},{"b":"v130","k":834,"e":-1.577},{"b":"v130","k":878,"e":-1.577},{"b":"v130","k":922,"e":-1.446},{"b":"v130","k":951,"e":-1.229},{"b":"v130","k":984,"e":-1.185},
{"b":"v131","k":813,"e":-1.751},{"b":"v131","k":849,"e":-1.87},{"b":"v131","k":885,"e":-1.827},{"b":"v131","k":922,"e":-1.794},{"b":"v131","k":951,"e":-1.533},{"b":"v131","k":970,"e":-1.457},{"b":"v131","k":984,"e":-1.446},
{"b":"v132","k":813,"e":-1.772},{"b":"v132","k":849,"e":-1.816},{"b":"v132","k":885,"e":-1.696},{"b":"v132","k":922,"e":-1.599},{"b":"v132","k":959,"e":-1.468},{"b":"v132","k":984,"e":-1.446},
{"b":"v133","k":965,"e":-2.03},{"b":"v133","k":984,"e":-1.925},{"b":"v133","k":1014,"e":-1.968},{"b":"v133","k":1053,"e":-1.968},
{"b":"v134","k":984,"e":-0.174},{"b":"v134","k":1014,"e":-0.152},{"b":"v134","k":1053,"e":-0.152},
{"b":"v135","k":984,"e":-0.185},{"b":"v135","k":1003,"e":-0.196},{"b":"v135","k":1053,"e":-0.152},
{"b":"v136","k":984,"e":-0.283},{"b":"v136","k":1014,"e":-0.37},{"b":"v136","k":1053,"e":-0.446},
{"b":"v137","k":984,"e":-0.283},{"b":"v137","k":1014,"e":-0.413},{"b":"v137","k":1032,"e":-0.467},{"b":"v137","k":1053,"e":-0.467},
{"b":"v138","k":984,"e":-0.652},{"b":"v138","k":1017,"e":-0.641},{"b":"v138","k":1053,"e":-0.707},
{"b":"v139","k":984,"e":-0.652},{"b":"v139","k":1014,"e":-0.739},{"b":"v139","k":1032,"e":-0.815},{"b":"v139","k":1053,"e":-0.804},
{"b":"v140","k":984,"e":-1.0},{"b":"v140","k":1014,"e":-0.978},{"b":"v140","k":1032,"e":-0.99},{"b":"v140","k":1053,"e":-1.022},
{"b":"v141","k":984,"e":-1.0},{"b":"v141","k":1014,"e":-1.011},{"b":"v141","k":1053,"e":-1.098},
{"b":"v142","k":984,"e":-1.185},{"b":"v142","k":1014,"e":-1.153},{"b":"v142","k":1053,"e":-1.164},
{"b":"v143","k":984,"e":-1.185},{"b":"v143","k":1014,"e":-1.218},{"b":"v143","k":1053,"e":-1.185},
{"b":"v144","k":984,"e":-1.446},{"b":"v144","k":1014,"e":-1.533},{"b":"v144","k":1039,"e":-1.729},{"b":"v144","k":1053,"e":-1.751},
{"b":"v145","k":984,"e":-1.446},{"b":"v145","k":1017,"e":-1.468},{"b":"v145","k":1053,"e":-1.62},
{"b":"v146","k":984,"e":-1.903},{"b":"v146","k":1039,"e":-1.772},{"b":"v146","k":1053,"e":-1.903}
]
},
"layer": [
{"data": {"name": "hs"}, "mark": {"type": "rule", "color": "black", "strokeWidth": 1.3},
 "encoding": {"x": {"field": "k", "type": "quantitative", "scale": {"domain": [0, 1053], "nice": false, "zero": false},
   "axis": {"orient": "top", "values": [0,71,243,314,485,569,742,813,984,1053], "labels": false, "title": null, "grid": false, "ticks": true, "tickSize": -9, "tickWidth": 4, "tickColor": "black"}}}},
{"data": {"values": [{"e": 0}]}, "mark": {"type": "rule", "color": "black", "strokeWidth": 1.3},
 "encoding": {"y": {"field": "e", "type": "quantitative", "scale": {"domain": [-2, 3], "nice": false},
   "axis": {"orient": "right", "values": [-2,-1,0,1,2,3], "labels": false, "title": null, "grid": false, "ticks": true, "tickSize": -9, "tickWidth": 4, "tickColor": "black"}}}},
{"data": {"values": [{"e": 1.75}]}, "mark": {"type": "rule", "color": "black", "strokeWidth": 1.2, "strokeDash": [6, 5]},
 "encoding": {"y": {"field": "e", "type": "quantitative", "axis": null}}},
{"data": {"name": "bands"}, "mark": {"type": "line", "color": "#ff0000", "strokeWidth": 2.1, "interpolate": "monotone", "clip": true},
 "encoding": {
  "x": {"field": "k", "type": "quantitative",
   "axis": {"orient": "bottom", "values": [0,71,243,314,485,569,742,813,984,1053], "title": null, "grid": false,
    "labelExpr": "datum.value == 0 || datum.value == 485 ? 'Γ' : datum.value == 71 ? 'Y' : datum.value == 243 ? 'T' : datum.value == 314 ? 'Z' : datum.value == 742 ? 'U' : datum.value == 813 ? 'R' : datum.value == 984 ? 'S' : 'X'",
    "labelFont": {"condition": {"test": "datum.value == 0 || datum.value == 485", "value": "Liberation Serif"}, "value": "Liberation Sans"},
    "labelFontSize": 62, "labelColor": "black", "labelOverlap": false, "labelFlush": false, "labelBound": false,
    "ticks": true, "tickSize": -9, "tickWidth": 4, "tickColor": "black", "labelPadding": 20}},
  "y": {"field": "e", "type": "quantitative",
   "axis": {"orient": "left", "values": [-2,-1,0,1,2,3], "title": "Energy (eV)", "grid": false,
    "labelExpr": "datum.value < 0 ? '-' + abs(datum.value) : '' + datum.value",
    "labelFont": "Liberation Sans", "labelFontSize": 58, "labelColor": "black", "labelOverlap": false, "labelFlush": false, "labelBound": false,
    "ticks": true, "tickSize": -9, "tickWidth": 4, "tickColor": "black", "labelPadding": 40,
    "titleFont": "Liberation Sans", "titleFontSize": 62, "titleFontWeight": "normal", "titleColor": "black", "titlePadding": 16}},
  "detail": {"field": "b"}}},
{"data": {"values": [{"k": 877, "e": 1.39, "t": "(b)"}]}, "mark": {"type": "text", "font": "Liberation Sans", "fontSize": 54, "color": "black", "align": "center", "baseline": "middle"},
 "encoding": {"x": {"field": "k", "type": "quantitative", "axis": null}, "y": {"field": "e", "type": "quantitative", "axis": null}, "text": {"field": "t"}}}
],
"resolve": {"axis": {"x": "independent", "y": "independent"}}
}
